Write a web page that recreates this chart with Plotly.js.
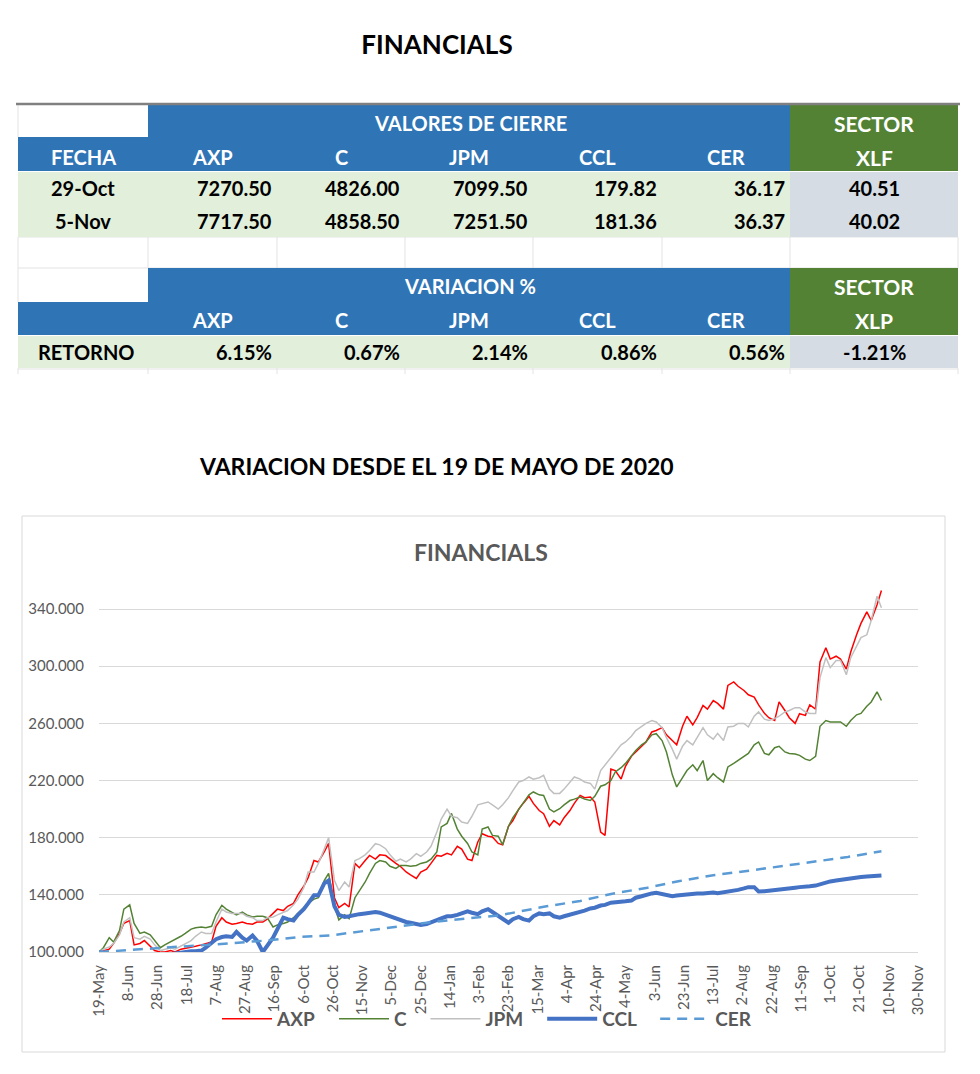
<!DOCTYPE html>
<html><head><meta charset="utf-8">
<script src="https://cdn.plot.ly/plotly-3.0.1.min.js"></script>
<style>html,body{margin:0;padding:0;background:#fff}#chart{width:980px;height:1074px}</style>
</head><body><div id="chart"></div>
<script>
// ---------- DATA ----------
const dates = ['2020-05-19','2020-05-22','2020-05-26','2020-05-29','2020-06-02','2020-06-05','2020-06-09','2020-06-12','2020-06-16','2020-06-19','2020-06-23','2020-06-26','2020-06-30','2020-07-03','2020-07-07','2020-07-10','2020-07-14','2020-07-17','2020-07-21','2020-07-24','2020-07-28','2020-07-31','2020-08-04','2020-08-07','2020-08-11','2020-08-14','2020-08-18','2020-08-21','2020-08-25','2020-08-28','2020-09-01','2020-09-04','2020-09-08','2020-09-11','2020-09-15','2020-09-18','2020-09-22','2020-09-25','2020-09-29','2020-10-02','2020-10-06','2020-10-09','2020-10-13','2020-10-16','2020-10-20','2020-10-23','2020-10-27','2020-10-30','2020-11-03','2020-11-06','2020-11-10','2020-11-13','2020-11-17','2020-11-20','2020-11-24','2020-11-27','2020-12-01','2020-12-04','2020-12-08','2020-12-11','2020-12-15','2020-12-18','2020-12-22','2020-12-25','2020-12-29',
'2021-01-01','2021-01-05','2021-01-08','2021-01-12','2021-01-15','2021-01-19','2021-01-22','2021-01-26','2021-01-29','2021-02-02','2021-02-05','2021-02-09','2021-02-12','2021-02-16','2021-02-19','2021-02-23','2021-02-26','2021-03-02','2021-03-05','2021-03-09','2021-03-12','2021-03-16','2021-03-19','2021-03-23','2021-03-26','2021-03-30','2021-04-02','2021-04-06','2021-04-09','2021-04-13','2021-04-16','2021-04-20','2021-04-23','2021-04-27','2021-04-30','2021-05-04','2021-05-07','2021-05-11','2021-05-14','2021-05-18','2021-05-21','2021-05-25','2021-05-28','2021-06-01','2021-06-04','2021-06-08','2021-06-11','2021-06-15','2021-06-18','2021-06-22','2021-06-25','2021-06-29','2021-07-02','2021-07-06','2021-07-09','2021-07-13','2021-07-16','2021-07-20','2021-07-23','2021-07-27','2021-07-30','2021-08-03','2021-08-06','2021-08-10','2021-08-13','2021-08-17','2021-08-20','2021-08-24','2021-08-27','2021-08-31','2021-09-03','2021-09-07','2021-09-10','2021-09-14','2021-09-17','2021-09-21','2021-09-24','2021-09-28','2021-10-01','2021-10-05','2021-10-08','2021-10-12','2021-10-15','2021-10-19','2021-10-22','2021-10-26','2021-10-29','2021-11-02','2021-11-05'];

const axp = [100,101, 102,106, 113,120, 122,105, 106,108, 104,101, 100,100, 101,100, 102,102.5, 103,104,
  105,106, 107,118, 124,121, 119.5,120, 121,120, 119.5,121, 121,123, 127,130, 129,132, 134,140,
  146,152, 164,163, 170,176, 138,131, 134,131.5, 162,159, 164,167.6, 165,168, 167.5,165, 162,160,
  156,154, 151.5,156, 158,162, 167.6,167, 169,168, 174,172, 165,164, 177,182.8, 181,180.5, 176,175,
  188,192, 200,204, 209,204, 199,196.8, 188,192, 189,194, 199,204, 209.6,208, 208.5,205, 184,181.6,
  228,227, 221,230, 237,240, 244,247, 254,255, 257,252, 248,245, 258,265, 259,264, 272.6,270,
  276,274, 270,286.6, 289,286, 283,280, 278.4,273, 267,264, 262,275, 269,264, 260,266.8, 265.6,273,
  270,303, 313,305, 307,305, 298,310, 322,330, 338,332, 343,353];

const citi = [100,103, 110,107, 115,130, 133,120, 113,114, 112,108, 103,105, 107,109, 111,113, 116,117,
  117.5,117, 118,126, 132.7,130, 128,126, 128,126, 124.5,125, 125,124, 117.5,119, 120,121, 124,127,
  131,134, 137,138, 150,155, 132,122.5, 126,123.3, 138,143, 149,155, 162,164, 163,160, 158.5,160.6,
  160.6,160, 160.6,162, 163,165, 170,187.5, 190,197, 186,181, 176,170, 168,186, 187.5,181.6, 181,175,
  188,194, 200,204, 210,212, 210,209.6, 200,198, 200.3,203, 206,207, 208.5,207, 206,209, 216,217,
  220,226, 229,232, 237,241, 245,247, 252,252.8, 248,240, 224,215.5, 222,227, 231,227, 234,220,
  224.8,222, 219,229.5, 232,234, 237,239, 245,247, 239,238, 243,244, 240,239, 238.5,237.6, 235,234,
  237,258, 262,261, 261,261, 258,262, 266,267, 272,275, 282,276];

const jpm = [100,102, 103.5,106, 112,121, 124,110, 109,111, 109,105, 101,102, 103,102, 104,106, 108,111,
  114,113, 113,121, 130,128, 127,127, 127,125, 124,122, 122,124, 124.5,126, 128,129, 133,137,
  145,156, 156,162, 172,180, 150,143, 149,145.5, 164,165.3, 168,171, 175.8,175, 172.3,168, 163.5,165,
  163,165, 168.8,167, 170,174, 184,193, 200,195, 194,191, 190,195, 203,204, 205,203, 200,203,
  208,213, 219,220, 222.5,221, 222,223.6, 214,211, 211,214, 219,222.5, 221,219, 218,214, 227,231,
  236.5,240, 245,247, 251,255, 258,260, 262,261, 257,250, 242,235, 244,248, 245,250, 257,252,
  249,253, 248,257.5, 258,260, 260,257.5, 265,268, 263,262, 263.3,265, 268,269, 271,271, 268,267,
  267,292, 306,299, 304,304, 294,306, 314,320, 322,332, 349,341];

const ccl = [100,99.5, 99,98, 97,96, 96,96.5, 97,97, 97,97.5, 98,98, 98.5,99, 100,100.5, 100.5,100.5,
  101,103, 106,109, 110.5,111, 110.5,114, 110,108, 111.5,108, 100,104, 110,116, 124,123, 122,126,
  130,134, 139.7,139.7, 148,150, 132,126, 124.5,125, 126,126.5, 127,127.5, 128,127.5, 126,125, 124,123,
  121,120.5, 120,119, 119.5,120.5, 122,123.5, 125,125, 126,127, 128.5,127.5, 126.5,128.5, 130,128, 125,123,
  120.5,123, 124.5,123, 122,125, 127,126.5, 127,125, 124,125, 126,127, 128,129, 130.5,131, 132.5,133,
  134.5,135, 135,135.5, 136,138, 139,140, 141,141.5, 140.5,140, 139,139.5, 140,140.5, 140.5,141, 141,141.5,
  141.7,141.2, 141.7,142, 143,143.5, 144.5,145.4, 145.4,142.4, 142.5,142.8, 143,143.5, 144,144.5, 145,145.4, 145.5,146,
  146.5,147.5, 148.5,149.4, 150,150.5, 151,151.5, 152,152.5, 152.8,153, 153.2,153.5];

const cerDates = ['2020-05-19','2020-06-11','2020-07-12','2020-08-07','2020-09-10','2020-10-03','2020-10-25','2020-11-18','2020-12-10','2021-01-02','2021-01-25','2021-02-17','2021-03-21','2021-04-13','2021-05-05','2021-05-29','2021-06-20','2021-07-13','2021-08-05','2021-08-28','2021-09-19','2021-10-13','2021-11-05'];
const cer = [100,101.5,103.5,105.4,108,110.5,111.7,115,118,121,123.4,125.7,132,135.7,140.8,145,149.7,153.7,156.7,160,163,166.5,170.5];

const xTickVals = ['2020-05-19','2020-06-08','2020-06-28','2020-07-18','2020-08-07','2020-08-27','2020-09-16','2020-10-06','2020-10-26','2020-11-15','2020-12-05','2020-12-25','2021-01-14','2021-02-03','2021-02-23','2021-03-15','2021-04-04','2021-04-24','2021-05-14','2021-06-03','2021-06-23','2021-07-13','2021-08-02','2021-08-22','2021-09-11','2021-10-01','2021-10-21','2021-11-10','2021-11-30'];
const xTickText = ['19-May','8-Jun','28-Jun','18-Jul','7-Aug','27-Aug','16-Sep','6-Oct','26-Oct','15-Nov','5-Dec','25-Dec','14-Jan','3-Feb','23-Feb','15-Mar','4-Apr','24-Apr','4-May','3-Jun','23-Jun','13-Jul','2-Aug','22-Aug','11-Sep','1-Oct','21-Oct','10-Nov','30-Nov'];
const yTickVals = [100,140,180,220,260,300,340];
const yTickText = ['100.000','140.000','180.000','220.000','260.000','300.000','340.000'];

// table data
const tickers = ['AXP','C','JPM','CCL','CER'];
const closeDates = ['29-Oct','5-Nov'];
const close29Oct = ['7270.50','4826.00','7099.50','179.82','36.17'];
const close5Nov = ['7717.50','4858.50','7251.50','181.36','36.37'];
const xlfClose = ['40.51','40.02'];
const returns = ['6.15%','0.67%','2.14%','0.86%','0.56%'];
const xlpReturn = '-1.21%';

// ---------- LAYOUT HELPERS ----------
const W = 980, H = 1074;
const px = x => x / W;
const py = y => 1 - y / H;
const BLUE = '#2f75b5', GREEN = '#548235', LGREEN = '#e2efda', LGREY = '#d6dce4';
const colX = [18,148,277,405,533,662,790,958];
const shapes = [];
const annotations = [];
function rect(x0,y0,x1,y1,fill){
  shapes.push({type:'rect',xref:'paper',yref:'paper',x0:px(x0),x1:px(x1),y0:py(y1),y1:py(y0),fillcolor:fill,line:{width:0},layer:'below'});
}
function line(x0,y0,x1,y1,color,w){
  shapes.push({type:'line',xref:'paper',yref:'paper',x0:px(x0),x1:px(x1),y0:py(y0),y1:py(y1),line:{color:color,width:w},layer:'below'});
}
function txt(text,x,y,anchor,color,size,weight){
  annotations.push({text:text,xref:'paper',yref:'paper',x:px(x),y:py(y),xanchor:anchor,yanchor:'middle',showarrow:false,
    font:{family:'Lato',size:size||20,color:color||'#000',weight:weight===undefined?700:weight}});
}

// spreadsheet faint grid
for (let i=0;i<colX.length;i++){ line(colX[i],237,colX[i],268,'#e3e3e3',1); line(colX[i],368,colX[i],374,'#e3e3e3',1); }
line(18,237,958,237,'#e3e3e3',1);
line(18,268,958,268,'#e3e3e3',1);
line(18,369,958,369,'#e3e3e3',1);
line(18,105,18,137,'#e3e3e3',1);
line(18,268,18,302,'#e3e3e3',1);
// table fills
rect(148,105,790,137,BLUE); rect(790,105,958,137,GREEN);
rect(18,137,790,171,BLUE); rect(790,137,958,171,GREEN);
rect(18,172,790,237,LGREEN); rect(790,172,958,237,LGREY);
rect(148,268,790,302,BLUE); rect(790,268,958,302,GREEN);
rect(18,302,790,335,BLUE); rect(790,302,958,335,GREEN);
rect(18,336,790,368,LGREEN); rect(790,336,958,368,LGREY);
line(16,104,960,104,'#808080',2.5);

const colC = i => (colX[i]+colX[i+1])/2;
// table texts
txt('VALORES DE CIERRE',470,123,'center','#fff');
txt('SECTOR',874,123,'center','#fff',21);
txt('FECHA',colC(0),157,'center','#fff');
tickers.forEach((t,i)=>txt(t,colC(i+1),157,'center','#fff'));
txt('XLF',874,157,'center','#fff',21);
const closeRows = [close29Oct, close5Nov];
closeDates.forEach((d,r)=>{
  const y = 188 + r*33;
  txt(d,colC(0),y,'center','#000');
  closeRows[r].forEach((v,i)=>txt(v,colX[i+2]-3,y,'right','#000'));
  txt(xlfClose[r],874,y,'center','#000');
});
txt('VARIACION %',470,286,'center','#fff');
txt('SECTOR',874,286,'center','#fff',21);
tickers.forEach((t,i)=>txt(t,colC(i+1),320,'center','#fff'));
txt('XLP',874,320,'center','#fff',21);
txt('RETORNO',86,352,'center','#000');
returns.forEach((v,i)=>txt(v,colX[i+2]-3,352,'right','#000'));
txt(xlpReturn,874,352,'center','#000');

// headings
txt('VARIACION DESDE EL 19 DE MAYO DE 2020',436,466,'center','#000',23);
txt('FINANCIALS',481,552,'center','#595959',23);

// chart border
shapes.push({type:'rect',xref:'paper',yref:'paper',x0:px(22),x1:px(945),y0:py(1052),y1:py(516),line:{color:'#d9d9d9',width:1},fillcolor:'rgba(0,0,0,0)',layer:'below'});

// ---------- TRACES ----------
const sp = '\u00a0\u00a0\u00a0';
const traces = [
  {x:dates,y:axp,name:'AXP'+sp,type:'scatter',mode:'lines',line:{color:'#ff0000',width:1.5}},
  {x:dates,y:citi,name:'C'+sp,type:'scatter',mode:'lines',line:{color:'#548235',width:1.5}},
  {x:dates,y:jpm,name:'JPM'+sp,type:'scatter',mode:'lines',line:{color:'#c0c0c0',width:1.5}},
  {x:dates,y:ccl,name:'CCL'+sp,type:'scatter',mode:'lines',line:{color:'#4472c4',width:4}},
  {x:cerDates,y:cer,name:'CER',type:'scatter',mode:'lines',line:{color:'#5b9bd5',width:2.5,dash:'10px,7px'}}
];

const layout = {
  width:W,height:H,margin:{l:0,r:0,t:0,b:0},
  paper_bgcolor:'#fff',plot_bgcolor:'#fff',
  font:{family:'Lato',color:'#595959'},
  title:{text:'FINANCIALS',x:px(437),xanchor:'center',y:py(45),yanchor:'middle',xref:'paper',yref:'paper',
    font:{family:'Lato',size:26,color:'#000',weight:700}},
  xaxis:{type:'date',domain:[px(99),px(918)],range:['2020-05-19','2021-11-30'],
    tickmode:'array',tickvals:xTickVals,ticktext:xTickText,tickangle:-90,
    showgrid:false,zeroline:false,showline:true,linecolor:'#d9d9d9',linewidth:1,ticks:'',
    ticklabelstandoff:6,tickfont:{family:'Lato',size:15,color:'#595959'},fixedrange:true},
  yaxis:{domain:[py(952),py(580.5)],range:[100,360],tickmode:'array',tickvals:yTickVals,ticktext:yTickText,
    showgrid:true,gridcolor:'#d9d9d9',gridwidth:1,zeroline:false,showline:false,ticks:'',
    ticklabelstandoff:14,tickfont:{family:'Lato',size:15,color:'#595959'},fixedrange:true},
  showlegend:true,
  legend:{orientation:'h',x:px(217),xanchor:'left',y:py(1019),yanchor:'middle',bgcolor:'rgba(0,0,0,0)',
    itemwidth:50,traceorder:'normal',font:{family:'Lato',size:19,color:'#595959',weight:700}},
  shapes:shapes,annotations:annotations
};
Plotly.newPlot('chart',traces,layout,{staticPlot:true,displayModeBar:false});
</script>
</body></html>
